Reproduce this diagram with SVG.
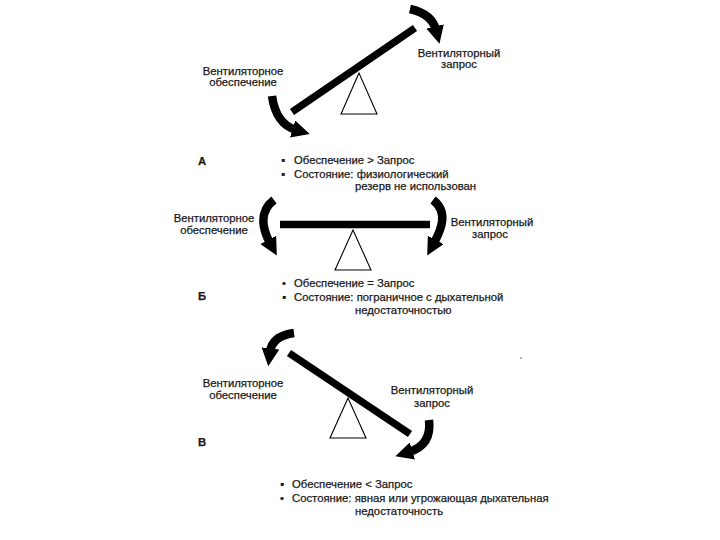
<svg xmlns="http://www.w3.org/2000/svg" width="720" height="540" viewBox="0 0 720 540">
<defs>
<style>
text{font-family:"Liberation Sans",Arial,sans-serif;font-size:11.3px;fill:#1a1a1a;stroke:#1a1a1a;stroke-width:0.25}
.c{text-anchor:middle}
.beam{stroke:#000;stroke-width:7.5;fill:none}
.tri{stroke:#000;stroke-width:1.1;fill:#fff}
.arr{stroke:#000;stroke-width:8.5;fill:none;marker-end:url(#ah)}
.lbl{font-weight:bold}
</style>
<marker id="ah" viewBox="0 0 10 10" refX="2" refY="5" markerWidth="2.1" markerHeight="2.1" orient="auto" markerUnits="strokeWidth">
<path d="M0,0 L10,5 L0,10 Z" fill="#000"/>
</marker>
</defs>
<rect width="720" height="540" fill="#fff"/>

<g id="panelA">
<g id="A-fulcrum"><polygon class="tri" points="359,73 341,114 377,114"/></g>
<g id="A-beam"><line class="beam" x1="292" y1="112" x2="415" y2="28"/></g>
<g id="A-supply"><text class="c" x="243" y="75">Вентиляторное</text><text class="c" x="243" y="86">обеспечение</text></g>
<g id="A-demand"><text class="c" x="459" y="57">Вентиляторный</text><text class="c" x="459" y="68">запрос</text></g>
<g id="A-label"><text class="lbl" x="198" y="165">А</text></g>
<g id="A-notes">
<text x="281" y="164">▪</text><text x="294" y="164">Обеспечение &gt; Запрос</text>
<text x="281" y="178">▪</text><text x="294" y="178">Состояние: физиологический</text>
<text x="355" y="190">резерв не использован</text>
</g>
</g>

<g id="panelB">
<g id="B-fulcrum"><polygon class="tri" points="353,230 335,270 371,270"/></g>
<g id="B-beam"><line class="beam" x1="280" y1="224.5" x2="430" y2="224.5"/></g>
<g id="B-supply"><text class="c" x="214" y="222">Вентиляторное</text><text class="c" x="214" y="234">обеспечение</text></g>
<g id="B-demand"><text class="c" x="492" y="226">Вентиляторный</text><text class="c" x="490" y="238">запрос</text></g>
<g id="B-label"><text class="lbl" x="198" y="300">Б</text></g>
<g id="B-notes">
<text x="282" y="287">•</text><text x="294" y="287">Обеспечение = Запрос</text>
<text x="282" y="301">▪</text><text x="294" y="301">Состояние: пограничное с дыхательной</text>
<text x="355" y="314">недостаточностью</text>
</g>
</g>

<g id="panelC">
<g id="C-fulcrum"><polygon class="tri" points="348,398 330,438 366,438"/></g>
<g id="C-beam"><line class="beam" x1="289" y1="353" x2="410" y2="434"/></g>
<g id="C-supply"><text class="c" x="243" y="387">Вентиляторное</text><text class="c" x="243" y="399">обеспечение</text></g>
<g id="C-demand"><text class="c" x="432" y="394">Вентиляторный</text><text class="c" x="432" y="407">запрос</text></g>
<g id="C-label"><text class="lbl" x="198" y="446">В</text></g>
<g id="C-notes">
<text x="280" y="488">▪</text><text x="292" y="488">Обеспечение &lt; Запрос</text>
<text x="280" y="502">•</text><text x="292" y="502">Состояние: явная или угрожающая дыхательная</text>
<text x="355" y="515">недостаточность</text>
</g>
<circle cx="521" cy="358" r="0.8" fill="#555"/>
</g>

<g id="connectors">
<path class="arr" d="M410,9 Q432,14 436,30"/>
<path class="arr" d="M272,96 Q276,124 296,130"/>
<path class="arr" d="M274,200 C258,212 263,230 270,243"/>
<path class="arr" d="M433,200 C449,212 441,230 434,243"/>
<path class="arr" d="M294,333 Q272,336 270,352"/>
<path class="arr" d="M429,420 Q432,445 409,452"/>
</g>
</svg>
